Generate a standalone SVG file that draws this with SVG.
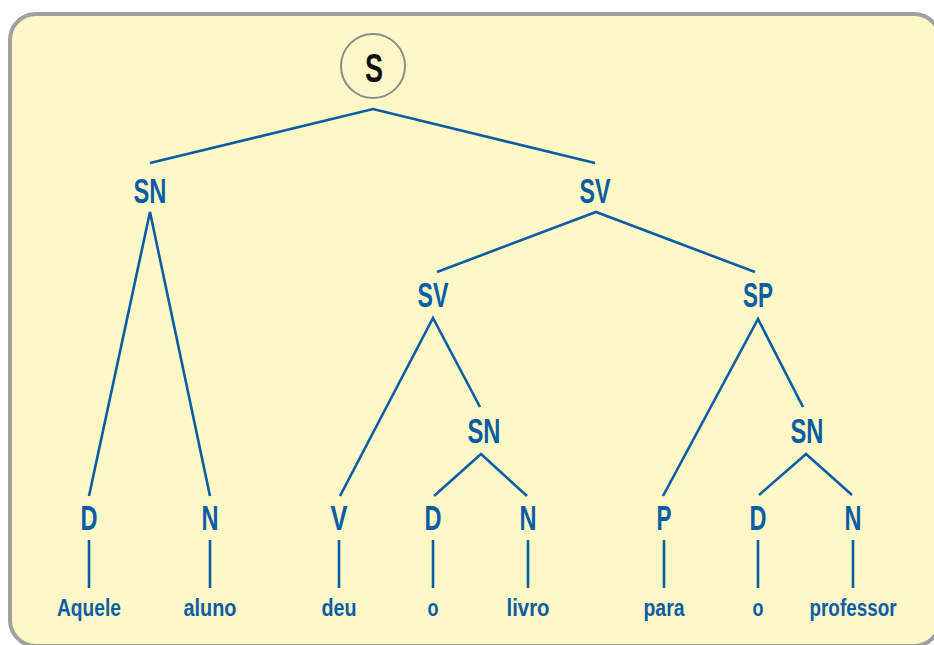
<svg xmlns="http://www.w3.org/2000/svg" width="934" height="645" viewBox="0 0 934 645">
<style>
.lbl{font-family:"Liberation Sans",Arial,sans-serif;font-weight:bold;fill:#0A5CA5;text-anchor:middle;font-size:35px}
.word{font-family:"Liberation Sans",Arial,sans-serif;font-weight:bold;fill:#0A5CA5;text-anchor:middle;font-size:24px}
.edge{stroke:#0A5CA5;stroke-width:2.6;fill:none;stroke-linecap:butt;stroke-linejoin:miter}
</style>
<rect x="0" y="0" width="934" height="645" fill="#ffffff"/>
<rect x="10" y="14" width="930" height="632" rx="26" ry="26" fill="#FEF8C8" stroke="#A0A0A0" stroke-width="4"/>
<g id="connectors">
<polyline class="edge" points="150,163 373,109 595,163"/>
<polyline class="edge" points="89,496 150,212 210,496"/>
<polyline class="edge" points="437,272 596,212 755,272"/>
<polyline class="edge" points="340,496 433,318 480,407"/>
<polyline class="edge" points="434,496 481,454 527,496"/>
<polyline class="edge" points="663,496 758,319 803,407"/>
<polyline class="edge" points="759,495 806,454 852,495"/>
<line class="edge" x1="89" y1="540" x2="89" y2="588"/>
<line class="edge" x1="210" y1="540" x2="210" y2="588"/>
<line class="edge" x1="339" y1="540" x2="339" y2="588"/>
<line class="edge" x1="433" y1="540" x2="433" y2="588"/>
<line class="edge" x1="528" y1="540" x2="528" y2="588"/>
<line class="edge" x1="664" y1="540" x2="664" y2="588"/>
<line class="edge" x1="758" y1="540" x2="758" y2="588"/>
<line class="edge" x1="853" y1="540" x2="853" y2="588"/>
</g>
<g id="S">
<circle cx="373" cy="66" r="32" fill="none" stroke="#8C8C8C" stroke-width="2"/>
<text x="374" y="82" class="lbl" style="fill:#111111;font-size:40px" textLength="18" lengthAdjust="spacingAndGlyphs">S</text>
</g>
<g id="SN1"><text x="150" y="203" class="lbl" textLength="33" lengthAdjust="spacingAndGlyphs">SN</text></g>
<g id="SV1"><text x="595" y="203" class="lbl" textLength="31" lengthAdjust="spacingAndGlyphs">SV</text></g>
<g id="SV2"><text x="433" y="307" class="lbl" textLength="31" lengthAdjust="spacingAndGlyphs">SV</text></g>
<g id="SP"><text x="758" y="307" class="lbl" textLength="30" lengthAdjust="spacingAndGlyphs">SP</text></g>
<g id="SN2"><text x="484" y="443" class="lbl" textLength="33" lengthAdjust="spacingAndGlyphs">SN</text></g>
<g id="SN3"><text x="807" y="443" class="lbl" textLength="33" lengthAdjust="spacingAndGlyphs">SN</text></g>
<g id="D1"><text x="89" y="530" class="lbl" textLength="17" lengthAdjust="spacingAndGlyphs">D</text></g>
<g id="N1"><text x="210" y="530" class="lbl" textLength="17" lengthAdjust="spacingAndGlyphs">N</text></g>
<g id="V"><text x="339" y="530" class="lbl" textLength="17" lengthAdjust="spacingAndGlyphs">V</text></g>
<g id="D2"><text x="433" y="530" class="lbl" textLength="17" lengthAdjust="spacingAndGlyphs">D</text></g>
<g id="N2"><text x="528" y="530" class="lbl" textLength="17" lengthAdjust="spacingAndGlyphs">N</text></g>
<g id="P"><text x="664" y="530" class="lbl" textLength="15" lengthAdjust="spacingAndGlyphs">P</text></g>
<g id="D3"><text x="758" y="530" class="lbl" textLength="17" lengthAdjust="spacingAndGlyphs">D</text></g>
<g id="N3"><text x="853" y="530" class="lbl" textLength="17" lengthAdjust="spacingAndGlyphs">N</text></g>
<g id="w1"><text x="89" y="616" class="word" textLength="64" lengthAdjust="spacingAndGlyphs">Aquele</text></g>
<g id="w2"><text x="210" y="616" class="word" textLength="53" lengthAdjust="spacingAndGlyphs">aluno</text></g>
<g id="w3"><text x="339" y="616" class="word" textLength="35" lengthAdjust="spacingAndGlyphs">deu</text></g>
<g id="w4"><text x="433" y="616" class="word" textLength="11" lengthAdjust="spacingAndGlyphs">o</text></g>
<g id="w5"><text x="528" y="616" class="word" textLength="43" lengthAdjust="spacingAndGlyphs">livro</text></g>
<g id="w6"><text x="664" y="616" class="word" textLength="41" lengthAdjust="spacingAndGlyphs">para</text></g>
<g id="w7"><text x="758" y="616" class="word" textLength="11" lengthAdjust="spacingAndGlyphs">o</text></g>
<g id="w8"><text x="853" y="616" class="word" textLength="87" lengthAdjust="spacingAndGlyphs">professor</text></g>
</svg>
